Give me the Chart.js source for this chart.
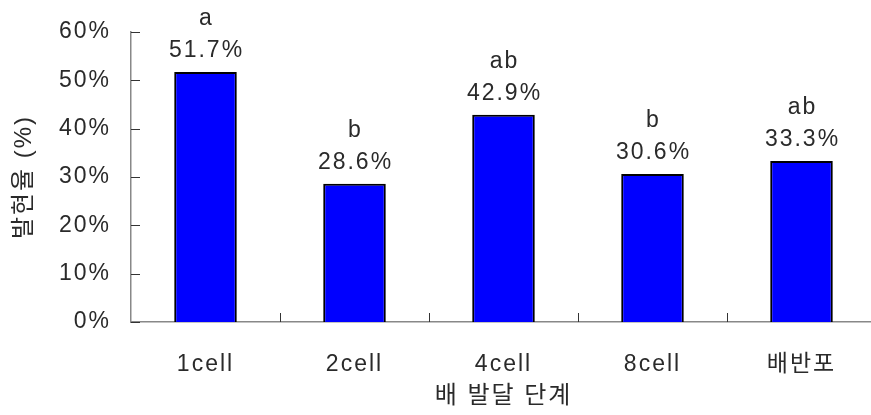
<!DOCTYPE html>
<html>
<head>
<meta charset="utf-8">
<script src="https://cdn.jsdelivr.net/npm/chart.js@4.4.1/dist/chart.umd.min.js"></script>
<style>
  html, body { margin: 0; padding: 0; background: #fff; }
  #clip { width: 871px; height: 415px; overflow: hidden; }
  #wrap { width: 885px; height: 415px; position: relative; }
</style>
</head>
<body>
<div id="clip"><div id="wrap"><canvas id="chart"></canvas></div></div>
<script>
// stages and expression rates
const stages = ['1cell', '2cell', '4cell', '8cell', '배반포'];
const rates = [51.7, 28.6, 42.9, 30.6, 33.3];
const letters = ['a', 'b', 'ab', 'b', 'ab'];
const yTicks = [0, 10, 20, 30, 40, 50, 60];

const FONT = "'Liberation Sans', 'Noto Sans CJK KR', sans-serif";
const SIZE = 23;
const SPACING = '2px';
const TEXT = '#2a2a2a';
const AXIS = '#888';

//spacing between glyphs, like the original wide bitmap font
const spacingPlugin = {
  id: 'spacing',
  beforeDraw(chart) { chart.ctx.letterSpacing = SPACING; }
};

//inward tick marks on both axes
const tickPlugin = {
  id: 'inTicks',
  afterDraw(chart) {
    const ctx = chart.ctx;
    const x = chart.scales.x, y = chart.scales.y;
    const area = chart.chartArea;
    ctx.save();
    ctx.strokeStyle = '#333';
    ctx.lineWidth = 1;
    ctx.beginPath();
    yTicks.forEach(v => {
      const py = Math.round(y.getPixelForValue(v)) + 0.5;
      ctx.moveTo(area.left, py);
      ctx.lineTo(area.left + 9, py);
    });
    for (let i = 0; i < stages.length - 1; i++) {
      const px = Math.round((x.getPixelForValue(i) + x.getPixelForValue(i + 1)) / 2) + 0.5;
      ctx.moveTo(px, area.bottom);
      ctx.lineTo(px, area.bottom - 9);
    }
    ctx.stroke();
    ctx.restore();
  }
};

//significance letter and value above each bar
const labelPlugin = {
  id: 'barLabels',
  afterDatasetsDraw(chart) {
    const ctx = chart.ctx;
    const meta = chart.getDatasetMeta(0);
    ctx.save();
    ctx.letterSpacing = SPACING;
    ctx.font = SIZE + 'px ' + FONT;
    ctx.fillStyle = TEXT;
    ctx.textAlign = 'center';
    ctx.textBaseline = 'middle';
    meta.data.forEach((bar, i) => {
      ctx.fillText(letters[i], bar.x + 1, bar.y - 53);
      ctx.fillText(rates[i].toFixed(1) + '%', bar.x + 1, bar.y - 21);
    });
    ctx.restore();
  }
};

new Chart(document.getElementById('chart'), {
  type: 'bar',
  data: {
    labels: stages,
    datasets: [{
      data: rates,
      backgroundColor: '#0000ff',
      borderColor: '#000',
      borderWidth: 2,
      categoryPercentage: 1,
      barPercentage: 0.42
    }]
  },
  options: {
    responsive: true,
    maintainAspectRatio: false,
    animation: false,
    layout: { padding: { top: 32, right: 9, left: 0, bottom: 0 } },
    plugins: { legend: { display: false }, tooltip: { enabled: false } },
    scales: {
      x: {
        grid: { display: false },
        border: { color: AXIS, width: 1.5 },
        ticks: { color: TEXT, font: { size: SIZE, family: FONT }, padding: 21 },
        title: { display: true, text: '배 발달 단계', color: TEXT, font: { size: 24, family: FONT }, padding: { top: 4 } },
        afterFit(scale) { scale.height = 93; }
      },
      y: {
        min: 0, max: 60,
        afterBuildTicks(scale) { scale.ticks = yTicks.map(v => ({ value: v })); },
        grid: { display: false },
        border: { color: AXIS, width: 1.5 },
        ticks: { color: TEXT, font: { size: SIZE, family: FONT }, padding: 12, callback: v => v + '%' },
        title: { display: true, text: '발현율 (%)', color: TEXT, font: { size: 24, family: FONT }, padding: { top: 10, bottom: 0 } },
        afterFit(scale) { scale.width = 131; }
      }
    }
  },
  plugins: [spacingPlugin, tickPlugin, labelPlugin]
});
</script>
</body>
</html>
